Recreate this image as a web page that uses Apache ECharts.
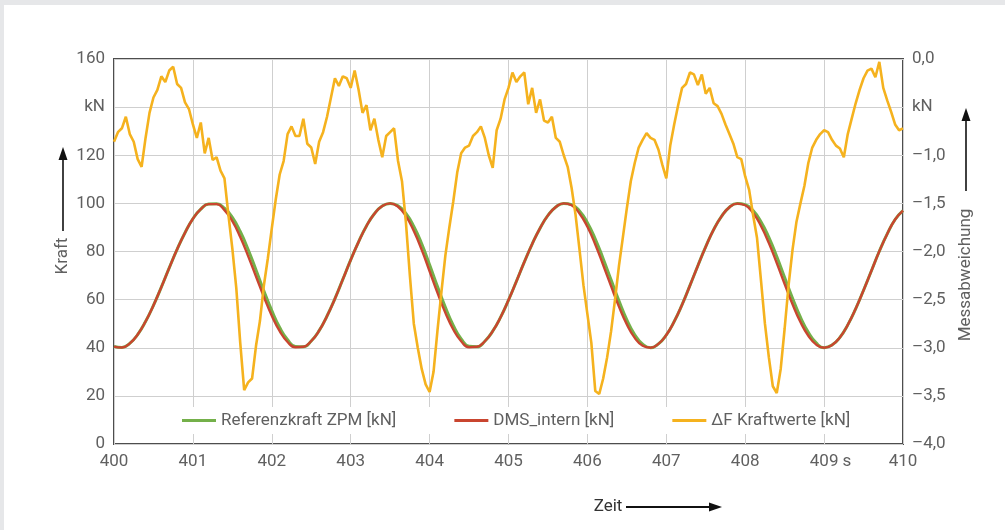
<!DOCTYPE html>
<html>
<head>
<meta charset="utf-8">
<script src="https://cdn.jsdelivr.net/npm/echarts@6/dist/echarts.min.js"></script>
<style>
html,body{margin:0;padding:0;background:#e6e7e9;width:1005px;height:530px;overflow:hidden;}
#panel{position:absolute;left:4px;top:5px;width:1001px;height:525px;background:#ffffff;}
#chart{width:1001px;height:525px;}
</style>
</head>
<body>
<div id="panel"><div id="chart"></div></div>
<script>
// ---- data ----
const timeStart = 400;
const forceStep = 0.1;   // s between samples of the force curves
const deltaStep = 0.05;  // s between samples of the deviation curve

const seriesNames = ['Referenzkraft ZPM [kN]', 'DMS_intern [kN]', '\u0394F Kraftwerte [kN]'];

// DMS_intern [kN], 400.0 .. 410.0 s
const dmsIntern = [
 40.5,40.1,41.8,45.5,50.9,57.6,65.2,73.2,80.9,87.8,
 93.6,97.6,99.7,99.7,97.2,92.6,86.0,78.1,69.6,61.1,
 53.3,46.9,42.4,40.2,40.4,42.8,47.1,53.2,60.4,68.4,
 76.5,84.0,90.6,95.7,98.9,100.0,98.6,94.7,88.5,80.7,
 71.8,62.8,54.5,47.6,42.7,40.2,40.4,42.7,46.9,52.7,
 59.8,67.6,75.6,83.1,89.7,95.0,98.5,100.0,99.2,95.8,
 90.3,82.9,74.4,65.6,57.1,49.7,44.1,40.8,40.0,41.6,
 45.3,50.9,57.9,65.9,74.1,82.0,89.1,94.6,98.4,99.9,
 99.2,96.0,90.6,83.5,75.2,66.5,58.1,50.7,45.0,41.3,
 40.0,41.1,44.3,49.5,56.2,63.9,72.0,80.1,87.3,93.3,
 97.0
];

// Referenzkraft ZPM [kN], 400.0 .. 410.0 s
const referenzZPM = [
 40.5,40.1,41.8,45.5,50.9,57.6,65.2,73.2,80.9,87.8,
 93.6,97.6,99.7,99.8,98.0,94.2,88.3,80.8,72.3,63.6,
 55.4,48.4,43.3,40.5,40.4,42.8,47.1,53.2,60.4,68.4,
 76.5,84.0,90.6,95.7,98.9,100.0,99.0,95.8,90.4,83.2,
 74.5,65.4,56.8,49.3,43.7,40.6,40.4,42.7,46.9,52.7,
 59.8,67.6,75.6,83.1,89.7,95.0,98.5,100.0,99.5,96.8,
 92.0,85.2,77.0,68.2,59.5,51.6,45.4,41.5,40.0,41.6,
 45.3,50.9,57.9,65.9,74.1,82.0,89.1,94.6,98.4,99.9,
 99.5,97.0,92.4,85.9,77.9,69.2,60.6,52.7,46.4,42.0,
 40.0,41.1,44.3,49.5,56.2,63.9,72.0,80.1,87.3,93.3,
 97.0
];

// ΔF Kraftwerte [kN], 400.00 .. 410.00 s
const deltaF = [
 -0.86,-0.76,-0.72,-0.60,-0.78,-0.86,-1.04,-1.12,-0.82,-0.56,
 -0.40,-0.32,-0.18,-0.24,-0.12,-0.08,-0.26,-0.30,-0.45,-0.52,
 -0.68,-0.82,-0.66,-0.98,-0.82,-1.05,-1.02,-1.16,-1.24,-1.62,
 -1.97,-2.38,-2.95,-3.44,-3.36,-3.32,-2.98,-2.72,-2.35,-2.07,
 -1.76,-1.46,-1.20,-1.06,-0.78,-0.70,-0.80,-0.80,-0.62,-0.88,
 -0.92,-1.09,-0.86,-0.76,-0.60,-0.40,-0.20,-0.28,-0.18,-0.20,
 -0.30,-0.12,-0.32,-0.56,-0.48,-0.74,-0.62,-0.84,-1.02,-0.80,
 -0.76,-0.72,-1.06,-1.27,-1.70,-2.25,-2.75,-3.00,-3.22,-3.38,
 -3.46,-3.25,-2.82,-2.42,-2.04,-1.75,-1.48,-1.18,-0.98,-0.92,
 -0.90,-0.80,-0.76,-0.70,-0.82,-1.00,-1.13,-0.74,-0.62,-0.42,
 -0.30,-0.14,-0.24,-0.18,-0.14,-0.47,-0.30,-0.56,-0.42,-0.64,
 -0.66,-0.60,-0.82,-0.86,-1.00,-1.12,-1.34,-1.62,-1.98,-2.35,
 -2.65,-2.95,-3.45,-3.48,-3.32,-3.10,-2.83,-2.50,-2.15,-1.85,
 -1.55,-1.27,-1.08,-0.92,-0.84,-0.77,-0.82,-0.84,-0.94,-1.10,
 -1.24,-0.90,-0.68,-0.48,-0.30,-0.26,-0.14,-0.16,-0.27,-0.16,
 -0.36,-0.30,-0.46,-0.49,-0.57,-0.68,-0.78,-0.88,-1.02,-1.04,
 -1.22,-1.36,-1.62,-1.86,-2.30,-2.75,-3.10,-3.40,-3.47,-3.22,
 -2.80,-2.35,-1.98,-1.69,-1.50,-1.32,-1.08,-0.92,-0.84,-0.78,
 -0.74,-0.76,-0.84,-0.90,-0.93,-1.02,-0.78,-0.62,-0.46,-0.32,
 -0.20,-0.12,-0.10,-0.19,-0.03,-0.30,-0.43,-0.55,-0.68,-0.74,
 -0.72
];

// axis tick labels
const leftUnitAt = 140;     // tick replaced by unit text
const rightUnitAt = -0.5;
const unitText = 'kN';
const leftAxisTitle = 'Kraft';
const rightAxisTitle = 'Messabweichung';
const bottomAxisTitle = 'Zeit';
const timeUnit = 's';

// ---- build series pairs ----
function pairs(values, step) {
  return values.map((v, i) => [+(timeStart + i * step).toFixed(3), v]);
}

const FONT = 'Roboto, "Noto Sans", sans-serif';
const TXT = '#606060';

const chart = echarts.init(document.getElementById('chart'), null, {renderer: 'canvas'});

function upArrow(x, tipY, bottomY) {
  return [
    {type: 'line', shape: {x1: x, y1: tipY + 8, x2: x, y2: bottomY}, style: {stroke: '#111', lineWidth: 1.6}, silent: true},
    {type: 'polygon', shape: {points: [[x, tipY], [x - 4.5, tipY + 13], [x + 4.5, tipY + 13]]}, style: {fill: '#111'}, silent: true}
  ];
}

const option = {
  animation: false,
  textStyle: {fontFamily: FONT},
  grid: {left: 110, right: 102, top: 54, bottom: 86, show: true, borderColor: '#4d4d4d', borderWidth: 2, backgroundColor: 'transparent'},
  legend: {
    data: seriesNames,
    left: 168,
    top: 402,
    padding: [5, 36, 5, 10],
    itemGap: 58,
    itemWidth: 34,
    itemHeight: 3,
    icon: 'rect',
    backgroundColor: '#ffffff',
    textStyle: {fontFamily: FONT, fontSize: 17, color: TXT}
  },
  xAxis: {
    type: 'value', min: 400, max: 410, interval: 1,
    axisLine: {show: false}, axisTick: {show: false},
    splitLine: {show: true, lineStyle: {color: '#cfcfcf', width: 1}},
    axisLabel: {fontFamily: FONT, fontSize: 17, color: TXT, margin: 9, formatter: v => String(v)}
  },
  yAxis: [
    {
      type: 'value', min: 0, max: 160, interval: 20, position: 'left',
      axisLine: {show: false}, axisTick: {show: false},
      splitLine: {show: true, lineStyle: {color: '#cfcfcf', width: 1}},
      axisLabel: {fontFamily: FONT, fontSize: 17, color: TXT, margin: 9,
        formatter: v => v === leftUnitAt ? unitText : String(v)}
    },
    {
      type: 'value', min: -4, max: 0, interval: 0.5, position: 'right',
      axisLine: {show: false}, axisTick: {show: false},
      splitLine: {show: false},
      axisLabel: {fontFamily: FONT, fontSize: 17, color: TXT, margin: 9,
        formatter: v => Math.abs(v - rightUnitAt) < 1e-9 ? unitText : v.toFixed(1).replace('.', ',').replace('-', '\u2013')}
    }
  ],
  series: [
    {name: seriesNames[0], type: 'line', yAxisIndex: 0, data: pairs(referenzZPM, forceStep), smooth: true, showSymbol: false, symbol: 'none',
     color: '#74b04a', lineStyle: {color: '#74b04a', width: 3}, z: 2},
    {name: seriesNames[1], type: 'line', yAxisIndex: 0, data: pairs(dmsIntern, forceStep), smooth: true, showSymbol: false, symbol: 'none',
     color: '#c9452f', lineStyle: {color: '#c9452f', width: 2.4}, z: 3},
    {name: seriesNames[2], type: 'line', yAxisIndex: 1, data: pairs(deltaF, deltaStep), smooth: false, showSymbol: false, symbol: 'none',
     color: '#f5b21e', lineStyle: {color: '#f5b21e', width: 2.6}, z: 4}
  ],
  graphic: [
    {type: 'text', x: 59, y: 251, rotation: Math.PI / 2, silent: true,
     style: {text: leftAxisTitle, fontFamily: FONT, fontSize: 17, fill: TXT, textAlign: 'center', textVerticalAlign: 'middle'}},
    ...upArrow(59, 142, 226),
    {type: 'text', x: 962, y: 270, rotation: Math.PI / 2, silent: true,
     style: {text: rightAxisTitle, fontFamily: FONT, fontSize: 17, fill: TXT, textAlign: 'center', textVerticalAlign: 'middle'}},
    ...upArrow(962, 103, 186),
    {type: 'text', x: 604, y: 502, silent: true,
     style: {text: bottomAxisTitle, fontFamily: FONT, fontSize: 17, fill: '#333', textAlign: 'center', textVerticalAlign: 'middle'}},
    {type: 'line', shape: {x1: 622, y1: 502, x2: 708, y2: 502}, style: {stroke: '#111', lineWidth: 1.8}, silent: true},
    {type: 'polygon', shape: {points: [[718, 502], [705, 497.5], [705, 506.5]]}, style: {fill: '#111'}, silent: true},
    {type: 'text', x: 843, y: 457, silent: true,
     style: {text: timeUnit, fontFamily: FONT, fontSize: 17, fill: TXT, textAlign: 'center', textVerticalAlign: 'middle'}}
  ]
};
chart.setOption(option);
</script>
</body>
</html>
